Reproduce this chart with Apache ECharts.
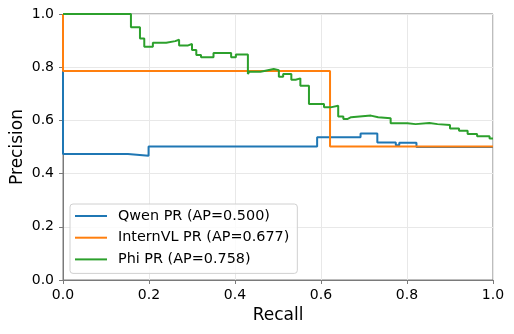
<!DOCTYPE html>
<html>
<head>
<meta charset="utf-8">
<script src="https://cdn.jsdelivr.net/npm/echarts@6/dist/echarts.min.js"></script>
<style>
  html, body { margin: 0; padding: 0; background: #fff; }
  #chart { width: 514px; height: 334px; }
</style>
</head>
<body>
<div id="chart"></div>
<script>
// PR curves: recall where the step starts, precision held after it
const qwenRecall = [0, 0, 0.151, 0.199, 0.591, 0.692, 0.731, 0.774, 0.782, 0.822, 1.0]
const qwenPrecision = [1.0, 0.474, 0.467, 0.502, 0.537, 0.551, 0.517, 0.507, 0.516, 0.5, 0.5]

const internRecall = [0, 0, 0.621, 1.0]
const internPrecision = [1.0, 0.786, 0.502, 0.502]

const phiRecall = [0, 0.158, 0.179, 0.189, 0.209, 0.240, 0.261, 0.270, 0.291, 0.300, 0.310, 0.321,
    0.350, 0.391, 0.402, 0.430, 0.433, 0.459, 0.471, 0.490, 0.502, 0.512, 0.531, 0.541, 0.552, 0.572,
    0.607, 0.622, 0.640, 0.652, 0.661, 0.670, 0.716, 0.733, 0.762, 0.801, 0.820, 0.852, 0.871, 0.900,
    0.921, 0.941, 0.963, 0.992, 1.0]
const phiPrecision = [1.0, 0.950, 0.908, 0.877, 0.892, 0.898, 0.903, 0.882, 0.887, 0.865, 0.846, 0.837,
    0.853, 0.837, 0.848, 0.774, 0.783, 0.787, 0.793, 0.789, 0.764, 0.774, 0.753, 0.758, 0.730, 0.662,
    0.649, 0.655, 0.615, 0.605, 0.612, 0.618, 0.612, 0.608, 0.589, 0.586, 0.590, 0.586, 0.583, 0.570,
    0.561, 0.549, 0.540, 0.532, 0.530]

const seriesNames = ['Qwen PR (AP=0.500)', 'InternVL PR (AP=0.677)', 'Phi PR (AP=0.758)']
const seriesColors = ['#1f77b4', '#ff7f0e', '#2ca02c']

function pairs(xs, ys) {
    return xs.map((x, i) => [x, ys[i]])
}

const curves = [
    pairs(qwenRecall, qwenPrecision),
    pairs(internRecall, internPrecision),
    pairs(phiRecall, phiPrecision)
]

const font = 'DejaVu Sans'
const spine = '#7a7a7a'

function axis(name, gap, labelMargin) {
    return {
        type: 'value',
        min: 0,
        max: 1,
        interval: 0.2,
        name: name,
        nameLocation: 'middle',
        nameGap: gap,
        nameMoveOverlap: false,
        nameTextStyle: {fontFamily: font, fontSize: 17, color: '#000'},
        axisLine: {show: true, lineStyle: {color: spine, width: 1}},
        axisTick: {show: true, inside: false, length: 4, lineStyle: {color: spine}},
        axisLabel: {fontFamily: font, fontSize: 14, color: '#000', margin: labelMargin,
            formatter: v => v.toFixed(1)},
        splitLine: {show: true, lineStyle: {color: '#e8e8e8', width: 1}}
    }
}

const myChart = echarts.init(document.getElementById('chart'), null, {renderer: 'canvas'})

myChart.setOption({
    animation: false,
    backgroundColor: '#fff',
    grid: {left: 63, right: 21, top: 14, bottom: 54, show: true, outerBoundsMode: 'none',
        containLabel: false, borderColor: spine, borderWidth: 1},
    xAxis: axis('Recall', 27, 8),
    yAxis: axis('Precision', 37, 9),
    legend: {
        orient: 'vertical',
        left: 70,
        top: 204,
        padding: [4, 8, 6, 5],
        backgroundColor: 'rgba(255,255,255,0.8)',
        borderColor: '#d0d0d0',
        borderWidth: 1,
        borderRadius: 3,
        icon: 'rect',
        itemWidth: 32,
        itemHeight: 2,
        itemGap: 5.7,
        textStyle: {fontFamily: font, fontSize: 14.4, color: '#000', lineHeight: 16,
            padding: [0, 0, 0, 6]},
        data: seriesNames
    },
    series: curves.map((data, i) => ({
        name: seriesNames[i],
        type: 'line',
        step: 'end',
        data: data,
        showSymbol: false,
        color: seriesColors[i],
        lineStyle: {width: 2, color: seriesColors[i]}
    }))
})
</script>
</body>
</html>
